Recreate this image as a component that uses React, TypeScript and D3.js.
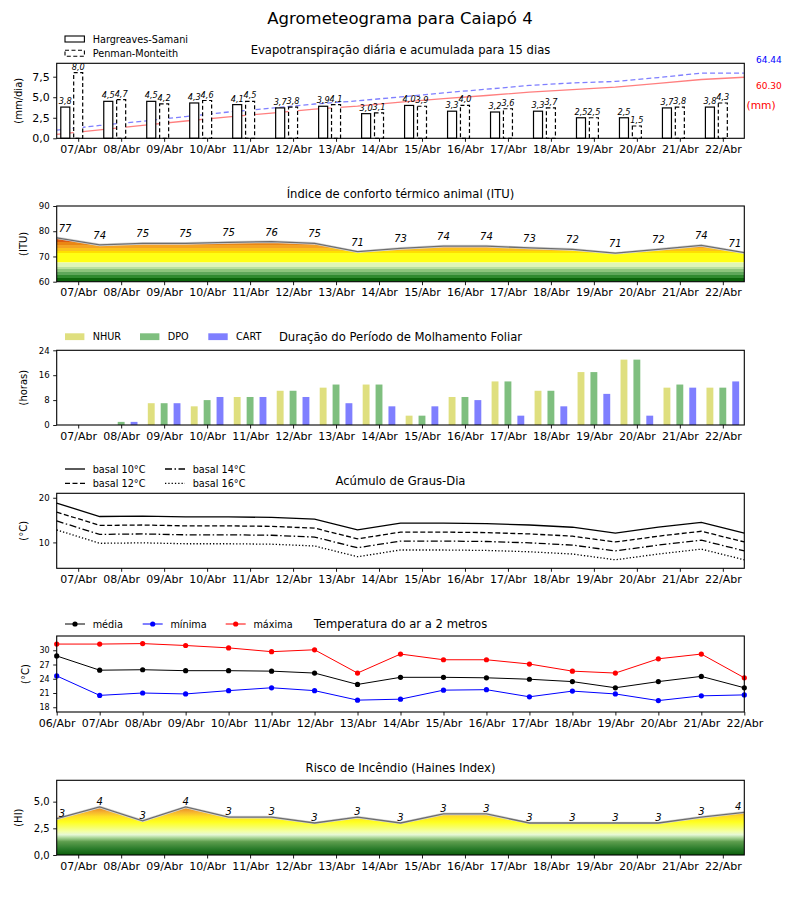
import React, { useEffect, useRef } from 'react';
import * as d3 from 'd3';

const FONT = "'DejaVu Sans', 'Liberation Sans', sans-serif";

// ---------- data ----------
const tickDays = ['07/Abr', '08/Abr', '09/Abr', '10/Abr', '11/Abr', '12/Abr', '13/Abr', '14/Abr', '15/Abr', '16/Abr', '17/Abr', '18/Abr', '19/Abr', '20/Abr', '21/Abr', '22/Abr'];
const pointDays = ['06/Abr', '07/Abr', '08/Abr', '09/Abr', '10/Abr', '11/Abr', '12/Abr', '13/Abr', '14/Abr', '15/Abr', '16/Abr', '17/Abr', '18/Abr', '19/Abr', '20/Abr', '21/Abr', '22/Abr'];

const etHS = [3.8, 4.5, 4.5, 4.3, 4.1, 3.7, 3.9, 3.0, 4.0, 3.3, 3.2, 3.3, 2.5, 2.5, 3.7, 3.8];
const etPM = [8.0, 4.7, 4.2, 4.6, 4.5, 3.8, 4.1, 3.1, 3.9, 4.0, 3.6, 3.7, 2.5, 1.5, 3.8, 4.3];
const cumHS = [3.8, 8.3, 12.8, 17.1, 21.2, 24.9, 28.8, 31.8, 35.8, 39.1, 42.3, 45.6, 48.1, 50.6, 54.3, 58.1, 60.3];
const cumPM = [8.0, 12.7, 16.9, 21.5, 26.0, 29.8, 33.9, 37.0, 40.9, 44.9, 48.5, 52.2, 54.7, 56.2, 60.0, 64.4, 64.4];
const totalPM = '64.44';
const totalHS = '60.30';

const ituValues = [77.4, 74.6, 75.2, 75.2, 75.6, 75.9, 75.2, 71.9, 73.2, 74.1, 74.1, 73.4, 72.8, 71.3, 72.8, 74.4, 71.5];
const ituLabels = [77, 74, 75, 75, 75, 76, 75, 71, 73, 74, 74, 73, 72, 71, 72, 74, 71];

const nhur = [0, 0, 7, 6, 9, 11, 12, 13, 3, 9, 14, 11, 17, 21, 12, 12];
const dpo = [0, 1, 7, 8, 9, 11, 13, 13, 3, 9, 14, 11, 17, 21, 13, 12];
const cart = [0, 1, 7, 9, 9, 9, 7, 6, 6, 8, 3, 6, 10, 3, 12, 14];

const gd10 = [18.8, 15.8, 15.9, 15.7, 15.7, 15.6, 15.2, 12.8, 14.3, 14.3, 14.2, 13.9, 13.4, 12.1, 13.4, 14.5, 12.1];
const gd12 = [16.8, 13.8, 13.9, 13.7, 13.7, 13.6, 13.2, 10.8, 12.3, 12.3, 12.2, 11.9, 11.4, 10.1, 11.4, 12.5, 10.1];
const gd14 = [14.8, 11.8, 11.9, 11.7, 11.7, 11.6, 11.2, 8.8, 10.3, 10.3, 10.2, 9.9, 9.4, 8.1, 9.4, 10.5, 8.1];
const gd16 = [12.8, 9.8, 9.9, 9.7, 9.7, 9.6, 9.2, 6.8, 8.3, 8.3, 8.2, 7.9, 7.4, 6.1, 7.4, 8.5, 6.1];

const tMed = [28.8, 25.8, 25.9, 25.7, 25.7, 25.6, 25.2, 22.8, 24.3, 24.3, 24.2, 23.9, 23.4, 22.1, 23.4, 24.5, 22.1];
const tMin = [24.6, 20.5, 21.0, 20.8, 21.5, 22.1, 21.5, 19.5, 19.7, 21.6, 21.7, 20.2, 21.4, 20.8, 19.4, 20.4, 20.6];
const tMax = [31.3, 31.3, 31.4, 31.0, 30.5, 29.7, 30.1, 25.2, 29.2, 28.0, 28.0, 27.1, 25.6, 25.2, 28.2, 29.2, 24.2];

const hainesValues = [3.4, 4.5, 3.2, 4.5, 3.55, 3.55, 3.0, 3.55, 3.0, 3.85, 3.85, 3.0, 3.0, 3.0, 3.0, 3.55, 4.0];
const hainesLabels = [3, 4, 3, 4, 3, 3, 3, 3, 3, 3, 3, 3, 3, 3, 3, 3, 4];

// colour bands (value, colour)
const ituBands: [number, string][] = [
  [60, '#0b650b'], [61.3, '#2f8a2f'], [62.6, '#5ea75a'], [64, '#8cc47c'], [65, '#b9e0a0'],
  [66, '#def5b8'], [67.3, '#f4fd9c'], [68, '#ffff14'], [71.5, '#ffe000'], [72.3, '#fbc21c'],
  [73.2, '#f4a424'], [74.5, '#ea8614'], [75.8, '#dd5c10'], [77, '#cc1010'], [90, '#cc1010'],
];
const hainesStops: [number, string][] = [
  [0, '#0a5e0a'], [0.6, '#2c7d2c'], [1.25, '#5e9e4e'], [1.6, '#a6d494'], [1.9, '#e6f8d6'],
  [2.2, '#f2ffa6'], [2.65, '#f8ff60'], [3.1, '#ffff1e'], [3.6, '#ffe024'], [4.05, '#f5b030'], [4.4, '#e88c1c'], [7, '#d06010'],
];

// ---------- layout ----------
const L = 56.7;
const R = 744.3;
const x = d3.scaleLinear().domain([0, 16]).range([L, R]);
const tickT = tickDays.map((_, i) => i + 0.5);
const pointT = pointDays.map((_, i) => i);

const P = {
  et: [63.3, 138.3],
  itu: [206, 281.7],
  wet: [350.3, 425],
  gd: [493.3, 568.3],
  temp: [636, 712],
  hi: [780.3, 855],
};

const comma = (d: number, n = 1) => d.toFixed(n).replace('.', ',');

function XAxis({ y, ticks, labels, fs = 11 }: { y: number; ticks: number[]; labels: string[]; fs?: number }) {
  const ref = useRef<SVGGElement>(null);
  useEffect(() => {
    const axis = d3.axisBottom(x).tickValues(ticks).tickFormat((_, i) => labels[i]).tickSizeOuter(0).tickSize(3.5).tickPadding(3.5);
    const g = d3.select(ref.current!);
    g.call(axis as any);
    g.select('.domain').remove();
    g.selectAll('text').attr('font-family', FONT).attr('font-size', fs).attr('fill', '#000');
    g.selectAll('line').attr('stroke', '#000').attr('stroke-width', 0.9);
  }, []);
  return <g ref={ref} transform={`translate(0,${y})`} />;
}

function YAxis({ scale, ticks, fmt, fs = 9 }: { scale: d3.ScaleLinear<number, number>; ticks: number[]; fmt: (d: number) => string; fs?: number }) {
  const ref = useRef<SVGGElement>(null);
  useEffect(() => {
    const axis = d3.axisLeft(scale).tickValues(ticks).tickFormat((d: any) => fmt(d)).tickSizeOuter(0).tickSize(3.5).tickPadding(3.5);
    const g = d3.select(ref.current!);
    g.call(axis as any);
    g.select('.domain').remove();
    g.selectAll('text').attr('font-family', FONT).attr('font-size', fs).attr('fill', '#000');
    g.selectAll('line').attr('stroke', '#000').attr('stroke-width', 0.9);
  }, []);
  return <g ref={ref} transform={`translate(${L},0)`} />;
}

function Frame({ top, bottom }: { top: number; bottom: number }) {
  return <rect x={L} y={top} width={R - L} height={bottom - top} fill="none" stroke="#000" strokeWidth={1.1} />;
}

function Title({ y, text }: { y: number; text: string }) {
  return (
    <text x={(L + R) / 2} y={y} textAnchor="middle" fontFamily={FONT} fontSize={11.6} fill="#000">
      {text}
    </text>
  );
}

function YLabel({ xPos, top, bottom, text }: { xPos: number; top: number; bottom: number; text: string }) {
  const cy = (top + bottom) / 2;
  return (
    <text transform={`translate(${xPos},${cy}) rotate(-90)`} textAnchor="middle" dominantBaseline="central" fontFamily={FONT} fontSize={10} fill="#000">
      {text}
    </text>
  );
}

function LegText({ x0, y0, text }: { x0: number; y0: number; text: string }) {
  return (
    <text x={x0} y={y0 + 3.5} fontFamily={FONT} fontSize={9.7} fill="#000">
      {text}
    </text>
  );
}

function PointLabels({ ys, labels, offset, fs }: { ys: number[]; labels: (string | number)[]; offset: number; fs: number }) {
  const n = labels.length;
  return (
    <g fontFamily={FONT} fontSize={fs} fontStyle="italic" fill="#000">
      {labels.map((lab, i) => {
        const px = x(pointT[i]);
        let anchor: 'start' | 'middle' | 'end' = 'middle';
        let dx = 0;
        if (i === 0) { anchor = 'start'; dx = 2; }
        if (i === n - 1) { anchor = 'end'; dx = -3; }
        return (
          <text key={i} x={px + dx} y={ys[i] - offset} textAnchor={anchor}>
            {lab}
          </text>
        );
      })}
    </g>
  );
}

export default function App() {
  // ---- panel 1 ----
  const [t1, b1] = P.et;
  const yEt = d3.scaleLinear().domain([0, 9.13]).range([b1, t1]);
  const yCum = d3.scaleLinear().domain([0, 74.1]).range([b1, t1]);
  const bw1 = x(0.21) - x(0);
  const cumLine = d3.line<number>().x((_, i) => x(pointT[i])).y((d) => yCum(d));

  // ---- panel 2 ----
  const [t2, b2] = P.itu;
  const yItu = d3.scaleLinear().domain([60, 90]).range([b2, t2]);
  const ituArea = d3.area<number>().x((_, i) => x(pointT[i])).y0(b2).y1((d) => yItu(d));
  const ituLine = d3.line<number>().x((_, i) => x(pointT[i])).y((d) => yItu(d));

  // ---- panel 3 ----
  const [t3, b3] = P.wet;
  const yWet = d3.scaleLinear().domain([0, 24]).range([b3, t3]);
  const bw3 = x(0.16) - x(0);
  const wetSeries = [
    { data: nhur, off: -0.3, color: '#dfdf7f', name: 'NHUR' },
    { data: dpo, off: 0, color: '#7fbf7f', name: 'DPO' },
    { data: cart, off: 0.3, color: '#7f7fff', name: 'CART' },
  ];

  // ---- panel 4 ----
  const [t4, b4] = P.gd;
  const yGd = d3.scaleLinear().domain([4.2, 21]).range([b4, t4]);
  const gdLine = d3.line<number>().x((_, i) => x(pointT[i])).y((d) => yGd(d));
  const gdSeries = [
    { data: gd10, dash: undefined, name: 'basal 10°C' },
    { data: gd12, dash: '5,2.5', name: 'basal 12°C' },
    { data: gd14, dash: '7,2.5,1.5,2.5', name: 'basal 14°C' },
    { data: gd16, dash: '1.3,2', name: 'basal 16°C' },
  ];

  // ---- panel 5 ----
  const [t5, b5] = P.temp;
  const yT = d3.scaleLinear().domain([17, 33]).range([b5, t5]);
  const tLine = d3.line<number>().x((_, i) => x(pointT[i])).y((d) => yT(d));
  const tSeries = [
    { data: tMed, color: '#000000', name: 'média' },
    { data: tMin, color: '#0000ff', name: 'mínima' },
    { data: tMax, color: '#ff0000', name: 'máxima' },
  ];

  // ---- panel 6 ----
  const [t6, b6] = P.hi;
  const yHi = d3.scaleLinear().domain([0, 7]).range([b6, t6]);
  const hiArea = d3.area<number>().x((_, i) => x(pointT[i])).y0(b6).y1((d) => yHi(d));
  const hiLine = d3.line<number>().x((_, i) => x(pointT[i])).y((d) => yHi(d));

  // ITU banded gradient stops
  const ituStops: { off: number; color: string }[] = [];
  for (let i = 0; i < ituBands.length - 1; i++) {
    const [v0, c] = ituBands[i];
    const v1 = ituBands[i + 1][0];
    ituStops.push({ off: (v0 - 60) / 30, color: c });
    ituStops.push({ off: (v1 - 60) / 30, color: c });
  }

  return (
    <svg width={800} height={900} style={{ position: 'absolute', left: 0, top: 0, background: '#fff' }} xmlns="http://www.w3.org/2000/svg">
      <defs>
        <clipPath id="clipEt"><rect x={L} y={t1} width={R - L} height={b1 - t1} /></clipPath>
        <clipPath id="clipItu"><rect x={L} y={t2} width={R - L} height={b2 - t2} /></clipPath>
        <clipPath id="clipHi"><rect x={L} y={t6} width={R - L} height={b6 - t6} /></clipPath>
        <linearGradient id="ituGrad" gradientUnits="userSpaceOnUse" x1={0} y1={b2} x2={0} y2={t2}>
          {ituStops.map((s, i) => (
            <stop key={i} offset={s.off} stopColor={s.color} />
          ))}
        </linearGradient>
        <linearGradient id="hiGrad" gradientUnits="userSpaceOnUse" x1={0} y1={b6} x2={0} y2={t6}>
          {hainesStops.map(([v, c], i) => (
            <stop key={i} offset={v / 7} stopColor={c} />
          ))}
        </linearGradient>
      </defs>
      <rect x={0} y={0} width={800} height={900} fill="#fff" />

      <text x={400} y={24} textAnchor="middle" fontFamily={FONT} fontSize={16.5} fill="#000">
        Agrometeograma para Caiapó 4
      </text>

      {/* ===== Panel 1: Evapotranspiração ===== */}
      <Title y={54.2} text="Evapotranspiração diária e acumulada para 15 dias" />
      <rect x={65} y={36} width={19.4} height={6} fill="#fff" stroke="#000" strokeWidth={1.1} />
      <LegText x0={92.7} y0={39} text="Hargreaves-Samani" />
      <rect x={65} y={50.3} width={19.4} height={6} fill="#fff" stroke="#000" strokeWidth={1.1} strokeDasharray="4,2.5" />
      <LegText x0={92.7} y0={53.3} text="Penman-Monteith" />
      <g clipPath="url(#clipEt)">
        <path d={cumLine(cumHS) || ''} fill="none" stroke="#ff7f7f" strokeWidth={1.3} />
        <path d={cumLine(cumPM) || ''} fill="none" stroke="#7f7fff" strokeWidth={1.3} strokeDasharray="5,3" />
      </g>
      {etHS.map((v, i) => (
        <rect key={'hs' + i} x={x(tickT[i] - 0.3) - bw1 / 2} y={yEt(v)} width={bw1} height={b1 - yEt(v)} fill="#fff" stroke="#000" strokeWidth={1.2} />
      ))}
      {etPM.map((v, i) => (
        <rect key={'pm' + i} x={x(tickT[i]) - bw1 / 2} y={yEt(v)} width={bw1} height={b1 - yEt(v)} fill="#fff" stroke="#000" strokeWidth={1.2} strokeDasharray="4,2.5" />
      ))}
      <g fontFamily={FONT} fontSize={8.2} fontStyle="italic" textAnchor="middle" fill="#000">
        {etHS.map((v, i) => (
          <text key={'lhs' + i} x={x(tickT[i] - 0.3)} y={yEt(v) - 3}>{comma(v)}</text>
        ))}
        {etPM.map((v, i) => (
          <text key={'lpm' + i} x={x(tickT[i])} y={yEt(v) - 3}>{comma(v)}</text>
        ))}
      </g>
      <text x={756} y={62.5} fontFamily={FONT} fontSize={9} fill="#0000ff">{totalPM}</text>
      <text x={756} y={88.5} fontFamily={FONT} fontSize={9} fill="#ff0000">{totalHS}</text>
      <text x={746.5} y={108.8} fontFamily={FONT} fontSize={10.7} fill="#ff0000">(mm)</text>
      <Frame top={t1} bottom={b1} />
      <YAxis scale={yEt} ticks={[0, 2.5, 5, 7.5]} fmt={(d) => comma(d)} fs={11} />
      <XAxis y={b1} ticks={tickT} labels={tickDays} />
      <YLabel xPos={18.3} top={t1} bottom={b1} text="(mm/dia)" />

      {/* ===== Panel 2: ITU ===== */}
      <Title y={198.2} text="Índice de conforto térmico animal (ITU)" />
      <g clipPath="url(#clipItu)">
        <path d={ituArea(ituValues) || ''} fill="url(#ituGrad)" />
        <path d={ituLine(ituValues) || ''} fill="none" stroke="#d8d8d8" strokeWidth={2.6} />
        <path d={ituLine(ituValues) || ''} fill="none" stroke="#6e6e6e" strokeWidth={1.3} />
      </g>
      <PointLabels ys={ituValues.map((v) => yItu(v))} labels={ituLabels} offset={6} fs={10} />
      <Frame top={t2} bottom={b2} />
      <YAxis scale={yItu} ticks={[60, 70, 80, 90]} fmt={(d) => String(d)} fs={8.6} />
      <XAxis y={b2} ticks={tickT} labels={tickDays} />
      <YLabel xPos={23.5} top={t2} bottom={b2} text="(ITU)" />

      {/* ===== Panel 3: Molhamento ===== */}
      <Title y={341} text="Duração do Período de Molhamento Foliar" />
      {wetSeries.map((s, k) => {
        const lx = [65, 140, 208.3][k];
        return (
          <g key={'leg3' + k}>
            <rect x={lx} y={333.3} width={19.4} height={6.8} fill={s.color} />
            <LegText x0={lx + 27.7} y0={336.7} text={s.name} />
          </g>
        );
      })}
      {wetSeries.map((s) =>
        s.data.map((v, i) => (
          <rect key={s.name + i} x={x(tickT[i] + s.off) - bw3 / 2} y={yWet(v)} width={bw3} height={b3 - yWet(v)} fill={s.color} />
        ))
      )}
      <Frame top={t3} bottom={b3} />
      <YAxis scale={yWet} ticks={[0, 8, 16, 24]} fmt={(d) => String(d)} fs={8.6} />
      <XAxis y={b3} ticks={tickT} labels={tickDays} />
      <YLabel xPos={23.5} top={t3} bottom={b3} text="(horas)" />

      {/* ===== Panel 4: Graus-Dia ===== */}
      <Title y={485} text="Acúmulo de Graus-Dia" />
      {gdSeries.map((s, k) => {
        const lx = k < 2 ? 65 : 165;
        const ly = k % 2 === 0 ? 469 : 483.3;
        return (
          <g key={'leg4' + k}>
            <line x1={lx} x2={lx + 20} y1={ly} y2={ly} stroke="#000" strokeWidth={1.3} strokeDasharray={s.dash} />
            <LegText x0={lx + 27.7} y0={ly} text={s.name} />
          </g>
        );
      })}
      {gdSeries.map((s) => (
        <path key={s.name} d={gdLine(s.data) || ''} fill="none" stroke="#000" strokeWidth={1.3} strokeDasharray={s.dash} />
      ))}
      <Frame top={t4} bottom={b4} />
      <YAxis scale={yGd} ticks={[10, 20]} fmt={(d) => String(d)} fs={8.6} />
      <XAxis y={b4} ticks={tickT} labels={tickDays} />
      <YLabel xPos={23.5} top={t4} bottom={b4} text="(°C)" />

      {/* ===== Panel 5: Temperatura ===== */}
      <Title y={628.2} text="Temperatura do ar a 2 metros" />
      {tSeries.map((s, k) => {
        const lx = [65, 142.7, 225.7][k];
        return (
          <g key={'leg5' + k}>
            <line x1={lx} x2={lx + 20} y1={624} y2={624} stroke={s.color} strokeWidth={1} />
            <circle cx={lx + 10} cy={624} r={2.6} fill={s.color} />
            <LegText x0={lx + 27.7} y0={624} text={s.name} />
          </g>
        );
      })}
      {tSeries.map((s) => (
        <g key={s.name}>
          <path d={tLine(s.data) || ''} fill="none" stroke={s.color} strokeWidth={1} />
          {s.data.map((v, i) => (
            <circle key={i} cx={x(pointT[i])} cy={yT(v)} r={2.6} fill={s.color} />
          ))}
        </g>
      ))}
      <Frame top={t5} bottom={b5} />
      <YAxis scale={yT} ticks={[18, 21, 24, 27, 30]} fmt={(d) => String(d)} fs={8} />
      <XAxis y={b5} ticks={pointT} labels={pointDays} />
      <YLabel xPos={25} top={t5} bottom={b5} text="(°C)" />

      {/* ===== Panel 6: Haines ===== */}
      <Title y={771.5} text="Risco de Incêndio (Haines Index)" />
      <g clipPath="url(#clipHi)">
        <path d={hiArea(hainesValues) || ''} fill="url(#hiGrad)" />
        <path d={hiLine(hainesValues) || ''} fill="none" stroke="#d8d8d8" strokeWidth={2.6} />
        <path d={hiLine(hainesValues) || ''} fill="none" stroke="#6e6e6e" strokeWidth={1.3} />
      </g>
      <PointLabels ys={hainesValues.map((v) => yHi(v))} labels={hainesLabels} offset={2} fs={10} />
      <Frame top={t6} bottom={b6} />
      <YAxis scale={yHi} ticks={[0, 2.5, 5]} fmt={(d) => comma(d)} fs={10} />
      <XAxis y={b6} ticks={tickT} labels={tickDays} />
      <YLabel xPos={18.3} top={t6} bottom={b6} text="(HI)" />
    </svg>
  );
}
